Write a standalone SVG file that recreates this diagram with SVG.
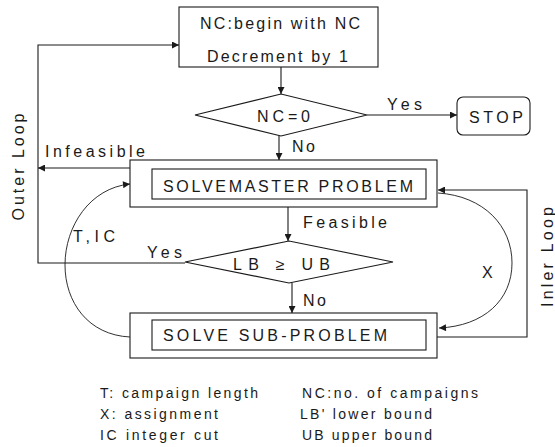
<svg xmlns="http://www.w3.org/2000/svg" width="555" height="447" viewBox="0 0 555 447">
<style>
text{font-family:"Liberation Sans","DejaVu Sans",sans-serif;fill:#1a1a1a}
.t{font-size:16px}
.s{font-size:14px}
.box{fill:#fff;stroke:#1a1a1a;stroke-width:1.1}
.ln{fill:none;stroke:#1a1a1a;stroke-width:1.1}
.cv{fill:none;stroke:#1a1a1a;stroke-width:0.9}
</style>
<defs>
<marker id="ah" viewBox="0 0 10 10" refX="10" refY="5" markerWidth="8" markerHeight="7" markerUnits="userSpaceOnUse" orient="auto">
<path d="M0,0 L10,5 L0,10 Z" fill="#1a1a1a"/>
</marker>
</defs>
<rect width="555" height="447" fill="#fff"/>
<g id="connectors">
<line class="ln" x1="281" y1="67" x2="281" y2="94" marker-end="url(#ah)"/>
<line class="ln" x1="367" y1="115" x2="457" y2="115" marker-end="url(#ah)"/>
<line class="ln" x1="279" y1="136" x2="279" y2="160" marker-end="url(#ah)"/>
<line class="ln" x1="130" y1="168" x2="38" y2="168" marker-end="url(#ah)"/>
<polyline class="ln" points="185,263 38,263 38,45 179,45" marker-end="url(#ah)"/>
<line class="ln" x1="288" y1="207" x2="288" y2="241" marker-end="url(#ah)"/>
<line class="ln" x1="292" y1="283" x2="292" y2="313" marker-end="url(#ah)"/>
<polyline class="ln" points="437,337 527,337 527,190 438,190" marker-end="url(#ah)"/>
<path class="cv" d="M438,193 C484,196 512,226 512,263 C512,300 484,326 439,328" marker-end="url(#ah)"/>
<path class="cv" d="M130,337 C88,335 65,302 65,265 C65,226 90,188 130,184" marker-end="url(#ah)"/>
<text class="t" x="387" y="110" textLength="35">Yes</text>
<text class="t" x="292" y="152" textLength="23">No</text>
<text class="t" x="45" y="157" textLength="100">Infeasible</text>
<text class="t" x="303" y="228" textLength="84">Feasible</text>
<text class="t" x="147" y="258" textLength="35">Yes</text>
<text class="t" x="303" y="306" textLength="23">No</text>
<text class="t" x="482" y="278">X</text>
<text class="t" x="73" y="242" textLength="42">T,IC</text>
<text class="t" transform="translate(24,167) rotate(-90)" text-anchor="middle" textLength="107">Outer Loop</text>
<text class="t" transform="translate(553,257) rotate(-90)" text-anchor="middle" textLength="100">Inler Loop</text>
</g>
<g id="start">
<rect class="box" x="179" y="7" width="199" height="60"/>
<text class="t" x="200" y="29" textLength="160">NC:begin with NC</text>
<text class="t" x="207" y="62" textLength="141">Decrement by 1</text>
</g>
<g id="check-nc">
<polygon class="box" points="195,115 281,94 367,115 281,136"/>
<text class="t" x="257" y="122" textLength="53">NC=0</text>
</g>
<g id="stop">
<rect class="box" x="457" y="97" width="73" height="38" rx="6"/>
<text class="t" x="469" y="123" textLength="54">STOP</text>
</g>
<g id="master">
<rect class="box" x="130" y="160" width="307" height="47"/>
<rect class="box" x="152" y="169" width="274" height="30"/>
<text class="t" x="163" y="192" textLength="250">SOLVEMASTER PROBLEM</text>
</g>
<g id="check-bound">
<polygon class="box" points="185,262 289,241 393,262 289,283"/>
<text class="t" x="233" y="270" textLength="97">LB ≥ UB</text>
</g>
<g id="sub">
<rect class="box" x="130" y="313" width="307" height="45"/>
<rect class="box" x="152" y="320" width="274" height="30"/>
<text class="t" x="163" y="341" textLength="224">SOLVE SUB-PROBLEM</text>
</g>
<g id="legend">
<text class="s" x="100" y="398" textLength="158">T: campaign length</text>
<text class="s" x="100" y="419" textLength="118">X: assignment</text>
<text class="s" x="100" y="440" textLength="118">IC  integer cut</text>
<text class="s" x="302" y="398" textLength="176">NC:no. of campaigns</text>
<text class="s" x="300" y="419" textLength="132">LB' lower bound</text>
<text class="s" x="302" y="440" textLength="130">UB  upper bound</text>
</g>
</svg>
